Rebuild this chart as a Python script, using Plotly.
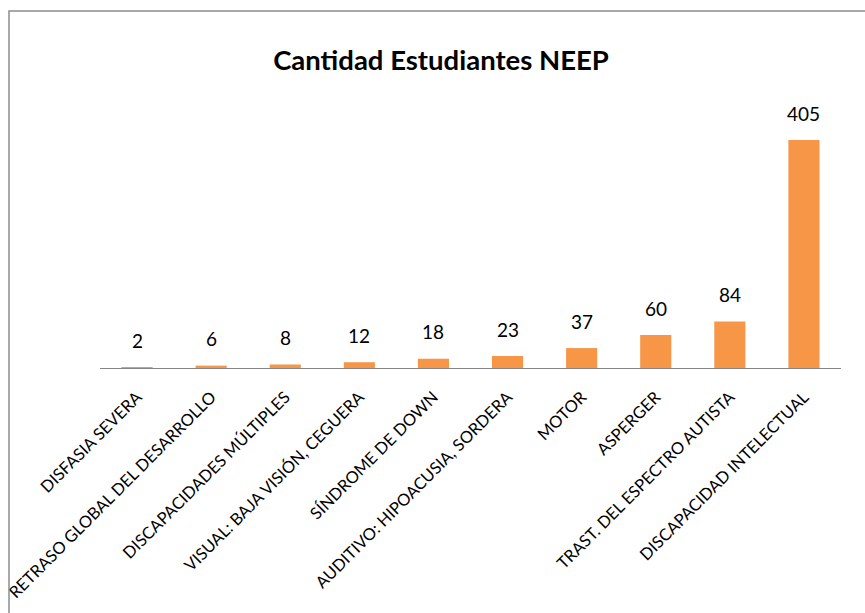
import plotly.graph_objects as go

categories = [
    "DISFASIA SEVERA",
    "RETRASO GLOBAL DEL DESARROLLO",
    "DISCAPACIDADES MÚLTIPLES",
    "VISUAL: BAJA VISIÓN, CEGUERA",
    "SÍNDROME DE DOWN",
    "AUDITIVO: HIPOACUSIA, SORDERA",
    "MOTOR",
    "ASPERGER",
    "TRAST. DEL ESPECTRO AUTISTA",
    "DISCAPACIDAD INTELECTUAL",
]
students = [2, 6, 8, 12, 18, 23, 37, 60, 84, 405]

W, H = 865, 613
L, R, T, B = 100, 24, 100, 244
pw, ph = W - L - R, H - T - B

FONT = "Lato"
BAR = "#F79646"
GRID = "#868686"

fig = go.Figure(
    go.Bar(
        x=categories,
        y=students,
        marker=dict(color=BAR, line=dict(width=0)),
        width=0.42,
        hoverinfo="x+y",
    )
)

# value labels above each bar
for c, v in zip(categories, students):
    fig.add_annotation(
        x=c, y=v, text=str(v), showarrow=False,
        yanchor="middle", yshift=27,
        font=dict(family=FONT, size=19, color="#000000"),
    )

# baseline drawn over the bars at y = 0
fig.add_shape(
    type="line", xref="paper", yref="y",
    x0=0, x1=1, y0=0, y1=0,
    line=dict(color=GRID, width=2), layer="above",
)

# chart frame (left and top edges)
def px(x):
    return (x - L) / pw

def py(y):
    return (H - B - y) / ph

fig.add_shape(
    type="path", xref="paper", yref="paper",
    path=f"M {px(9)} {py(620)} L {px(9)} {py(11)} L {px(870)} {py(11)}",
    line=dict(color="#8c8c8c", width=1.5),
)

fig.update_layout(
    width=W, height=H,
    margin=dict(l=L, r=R, t=T, b=B, autoexpand=False),
    paper_bgcolor="white", plot_bgcolor="white",
    showlegend=False,
    title=dict(
        text="<b>Cantidad Estudiantes NEEP</b>",
        x=441 / W, xref="container", xanchor="center",
        y=1 - 60 / H, yref="container", yanchor="middle",
        font=dict(family=FONT, size=27.5, color="#000000"),
    ),
    xaxis=dict(
        tickangle=-45,
        automargin=False,
        tickfont=dict(family=FONT, size=16.5, color="#000000"),
        showline=False,
        ticks="outside", ticklen=11, tickcolor="rgba(0,0,0,0)",
        showgrid=False,
    ),
    yaxis=dict(
        range=[0, ph / 0.5654],
        automargin=False,
        visible=False, showgrid=False, zeroline=False,
    ),
)

fig.write_html("out.html")
